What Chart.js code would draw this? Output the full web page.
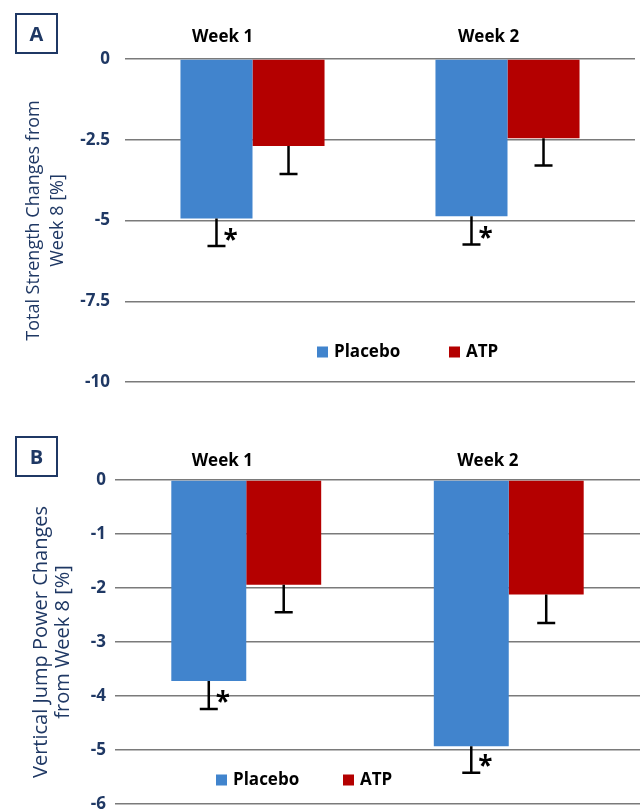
<!DOCTYPE html>
<html>
<head>
<meta charset="utf-8">
<script src="https://cdn.jsdelivr.net/npm/chart.js@4/dist/chart.umd.min.js"></script>
<style>
  html, body { margin: 0; padding: 0; background: #ffffff; }
  body { width: 641px; height: 809px; position: relative; overflow: hidden; font-family: 'Open Sans', sans-serif; }
  .panel { position: absolute; left: 0; width: 641px; }
  .tag {
    position: absolute; left: 15px; width: 39px; height: 37px;
    border: 2.5px solid #1f3864; color: #1f3864;
    font: bold 20px 'Open Sans', sans-serif;
    display: flex; align-items: center; justify-content: center;
  }
</style>
</head>
<body>
<div class="panel" style="top:0;height:404px"><canvas id="chartA" width="641" height="404"></canvas></div>
<div class="panel" style="top:404px;height:405px"><canvas id="chartB" width="641" height="405"></canvas></div>
<div class="tag" style="top:13px">A</div>
<div class="tag" style="top:436px">B</div>

<script>
// Groups along the x axis
const categories = ['Week 1', 'Week 2'];
const seriesNames = ['Placebo', 'ATP'];

// Panel A: total strength change (%) with SE
const placeboStrength = [-4.94, -4.87];
const atpStrength = [-2.69, -2.45];
const placeboStrengthErr = [0.85, 0.87];
const atpStrengthErr = [0.87, 0.85];
const strengthTicks = [0, -2.5, -5, -7.5, -10];

// Panel B: vertical jump power change (%) with SE
const placeboJump = [-3.72, -4.93];
const atpJump = [-1.94, -2.12];
const placeboJumpErr = [0.52, 0.49];
const atpJumpErr = [0.51, 0.53];
const jumpTicks = [0, -1, -2, -3, -4, -5, -6];

// Significance marks on the placebo bars
const placeboMarks = ['*', '*'];
const atpMarks = ['', ''];

const BLUE = '#4184cd';
const RED = '#b40000';
const NAVY = '#1f3864';

Chart.defaults.font.family = "'Open Sans', sans-serif";
Chart.defaults.color = NAVY;

// Downward SE whiskers with a cap, plus significance asterisks
const errorBars = {
  id: 'errorBars',
  afterDatasetsDraw(chart, args, opts) {
    const { ctx } = chart;
    const y = chart.scales.y;
    chart.data.datasets.forEach((ds, di) => {
      const meta = chart.getDatasetMeta(di);
      meta.data.forEach((bar, i) => {
        const v = ds.data[i];
        const e = ds.errors[i];
        const yEnd = y.getPixelForValue(v - e);
        ctx.save();
        ctx.strokeStyle = '#000';
        ctx.lineWidth = 2.5;
        ctx.beginPath();
        ctx.moveTo(bar.x, bar.y);
        ctx.lineTo(bar.x, yEnd);
        ctx.moveTo(bar.x - opts.cap / 2, yEnd);
        ctx.lineTo(bar.x + opts.cap / 2, yEnd);
        ctx.stroke();
        const mark = ds.marks && ds.marks[i];
        if (mark) {
          ctx.font = 'bold 26px "Open Sans", sans-serif';
          ctx.fillStyle = '#000';
          ctx.textAlign = 'center';
          ctx.textBaseline = 'alphabetic';
          const m = ctx.measureText(mark);
          const cy = yEnd - opts.markDy;
          const base = cy + (m.actualBoundingBoxAscent - m.actualBoundingBoxDescent) / 2;
          ctx.fillText(mark, bar.x + opts.markDx, base);
        }
        ctx.restore();
      });
    });
  }
};

// Group names written above the zero line
const groupLabels = {
  id: 'groupLabels',
  afterDraw(chart, args, opts) {
    const { ctx, chartArea } = chart;
    const x = chart.scales.x;
    ctx.save();
    ctx.font = 'bold 17px "Open Sans", sans-serif';
    ctx.fillStyle = '#000';
    ctx.textAlign = 'center';
    ctx.textBaseline = 'middle';
    chart.data.labels.forEach((lab, i) => {
      ctx.fillText(lab, x.getPixelForValue(i) + opts.dx[i], chartArea.top - opts.dy);
    });
    ctx.restore();
  }
};

// Legend inside the plot area
const innerLegend = {
  id: 'innerLegend',
  afterDraw(chart, args, opts) {
    const { ctx, chartArea } = chart;
    ctx.save();
    ctx.font = 'bold 17px "Open Sans", sans-serif';
    ctx.textAlign = 'left';
    ctx.textBaseline = 'middle';
    let x0 = chartArea.left + opts.left;
    const yc = chartArea.top + opts.top;
    chart.data.datasets.forEach((ds) => {
      ctx.fillStyle = ds.backgroundColor;
      ctx.fillRect(x0, yc - 5.5, 11, 11);
      ctx.fillStyle = '#000';
      ctx.fillText(ds.label, x0 + 17, yc);
      x0 += opts.step;
    });
    ctx.restore();
  }
};

function makeChart(id, cfg) {
  return new Chart(document.getElementById(id), {
    type: 'bar',
    data: {
      labels: categories,
      datasets: [
        { label: seriesNames[0], data: cfg.placebo, errors: cfg.placeboErr, marks: placeboMarks,
          backgroundColor: BLUE, borderWidth: 0, categoryPercentage: cfg.catPct, barPercentage: 1.0 },
        { label: seriesNames[1], data: cfg.atp, errors: cfg.atpErr, marks: atpMarks,
          backgroundColor: RED, borderWidth: 0, categoryPercentage: cfg.catPct, barPercentage: 1.0 }
      ]
    },
    options: {
      responsive: false,
      devicePixelRatio: 1,
      animation: false,
      layout: { padding: cfg.padding },
      plugins: {
        legend: { display: false },
        tooltip: { enabled: false },
        errorBars: { cap: 18, markDx: 14, markDy: 12 },
        groupLabels: { dx: cfg.labelDx, dy: cfg.labelDy },
        innerLegend: cfg.legend
      },
      scales: {
        x: { display: false },
        y: {
          min: cfg.ticks[cfg.ticks.length - 1],
          max: cfg.ticks[0],
          afterBuildTicks: (s) => { s.ticks = cfg.ticks.map(v => ({ value: v })); },
          afterFit: (s) => {
            s.width = cfg.axisWidth;
            s.paddingTop = 0;
            s.paddingBottom = 0;
          },
          ticks: {
            padding: cfg.tickPad,
            color: NAVY,
            font: { size: 17, weight: 'bold' },
            callback: (v) => String(v)
          },
          grid: { color: '#7a7a7a', lineWidth: 1.4, drawTicks: false },
          border: { display: false },
          title: {
            display: true,
            text: cfg.title,
            color: NAVY,
            font: { size: cfg.titleSize, lineHeight: cfg.titleLine },
            padding: { top: cfg.titlePad, bottom: 0 }
          }
        }
      }
    },
    plugins: [errorBars, groupLabels, innerLegend]
  });
}

makeChart('chartA', {
  placebo: placeboStrength, atp: atpStrength,
  placeboErr: placeboStrengthErr, atpErr: atpStrengthErr,
  ticks: strengthTicks,
  title: ['Total Strength Changes from', 'Week 8 [%]'],
  titleSize: 18, titleLine: '24px', titlePad: 22,
  axisWidth: 125, tickPad: 15,
  catPct: 0.565,
  padding: { top: 59, right: 6, bottom: 22, left: 0 },
  labelDx: [-30, -19], labelDy: 22,
  legend: { left: 192, top: 293, step: 132 }
});

makeChart('chartB', {
  placebo: placeboJump, atp: atpJump,
  placeboErr: placeboJumpErr, atpErr: atpJumpErr,
  ticks: jumpTicks,
  title: ['Vertical Jump Power Changes', 'from Week 8 [%]'],
  titleSize: 20, titleLine: '22px', titlePad: 30,
  axisWidth: 115, tickPad: 9,
  catPct: 0.571,
  padding: { top: 76, right: 1, bottom: 5, left: 0 },
  labelDx: [-24, -21], labelDy: 19,
  legend: { left: 101, top: 300, step: 127 }
});
</script>
</body>
</html>
